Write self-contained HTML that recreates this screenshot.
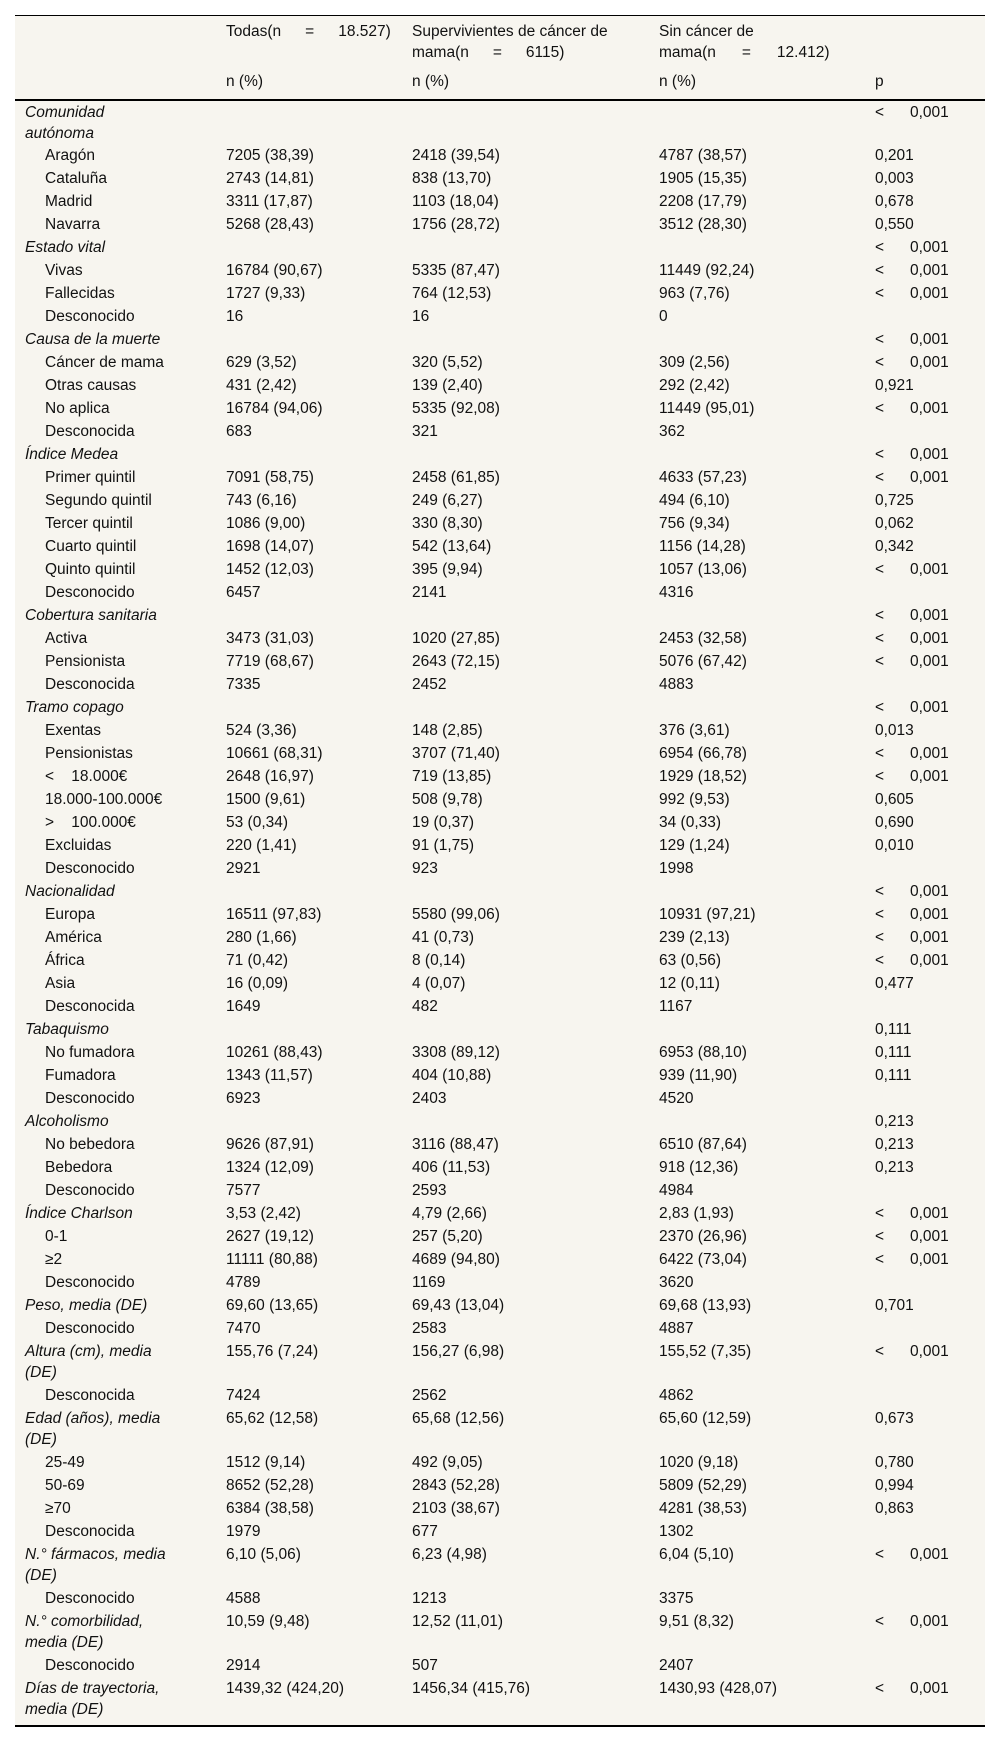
<!DOCTYPE html>
<html><head><meta charset="utf-8">
<style>
html,body{margin:0;padding:0;background:#fff;width:1000px;height:1743px;overflow:hidden}
body{font-family:"Liberation Sans",sans-serif;font-size:15.5px;color:#111}
.wrap{position:absolute;left:15px;top:15px;width:970px;height:1712px;background:#f7f5ef;border-top:1px solid #000;border-bottom:2px solid #000;box-sizing:border-box}
table{border-collapse:collapse;table-layout:fixed;width:970px}
td{padding:0;vertical-align:top;line-height:21px;overflow:visible;white-space:nowrap}
tr.s td{height:23px;padding-top:1px;box-sizing:border-box}
tr.d td{height:44px;padding-top:1px;box-sizing:border-box}
td.l{padding-left:10px}
td.i{padding-left:30px}
.it{font-style:italic}
.lt{display:inline-block;width:35px}
.sp{display:inline-block}
</style></head><body>
<div class="wrap">
<table>
<colgroup><col style="width:211px"><col style="width:186px"><col style="width:247px"><col style="width:216px"><col style="width:110px"></colgroup>
<tbody>
<tr><td style="height:55px"></td><td style="padding-top:5px">Todas(n<span class="sp" style="width:24px"></span>=<span class="sp" style="width:24px"></span>18.527)</td><td style="padding-top:5px">Supervivientes de cáncer de<br>mama(n<span class="sp" style="width:24px"></span>=<span class="sp" style="width:24px"></span>6115)</td><td style="padding-top:5px">Sin cáncer de<br>mama(n<span class="sp" style="width:26px"></span>=<span class="sp" style="width:26px"></span>12.412)</td><td></td></tr>
<tr><td style="height:28px;border-bottom:2px solid #000"></td><td style="border-bottom:2px solid #000">n (%)</td><td style="border-bottom:2px solid #000">n (%)</td><td style="border-bottom:2px solid #000">n (%)</td><td style="border-bottom:2px solid #000">p</td></tr>
</tbody>
<tbody id="tb">
<tr class="d"><td class="l it">Comunidad<br>autónoma</td><td></td><td></td><td></td><td><span class="lt">&lt;</span>0,001</td></tr>
<tr class="s"><td class="i">Aragón</td><td>7205 (38,39)</td><td>2418 (39,54)</td><td>4787 (38,57)</td><td>0,201</td></tr>
<tr class="s"><td class="i">Cataluña</td><td>2743 (14,81)</td><td>838 (13,70)</td><td>1905 (15,35)</td><td>0,003</td></tr>
<tr class="s"><td class="i">Madrid</td><td>3311 (17,87)</td><td>1103 (18,04)</td><td>2208 (17,79)</td><td>0,678</td></tr>
<tr class="s"><td class="i">Navarra</td><td>5268 (28,43)</td><td>1756 (28,72)</td><td>3512 (28,30)</td><td>0,550</td></tr>
<tr class="s"><td class="l it">Estado vital</td><td></td><td></td><td></td><td><span class="lt">&lt;</span>0,001</td></tr>
<tr class="s"><td class="i">Vivas</td><td>16784 (90,67)</td><td>5335 (87,47)</td><td>11449 (92,24)</td><td><span class="lt">&lt;</span>0,001</td></tr>
<tr class="s"><td class="i">Fallecidas</td><td>1727 (9,33)</td><td>764 (12,53)</td><td>963 (7,76)</td><td><span class="lt">&lt;</span>0,001</td></tr>
<tr class="s"><td class="i">Desconocido</td><td>16</td><td>16</td><td>0</td><td></td></tr>
<tr class="s"><td class="l it">Causa de la muerte</td><td></td><td></td><td></td><td><span class="lt">&lt;</span>0,001</td></tr>
<tr class="s"><td class="i">Cáncer de mama</td><td>629 (3,52)</td><td>320 (5,52)</td><td>309 (2,56)</td><td><span class="lt">&lt;</span>0,001</td></tr>
<tr class="s"><td class="i">Otras causas</td><td>431 (2,42)</td><td>139 (2,40)</td><td>292 (2,42)</td><td>0,921</td></tr>
<tr class="s"><td class="i">No aplica</td><td>16784 (94,06)</td><td>5335 (92,08)</td><td>11449 (95,01)</td><td><span class="lt">&lt;</span>0,001</td></tr>
<tr class="s"><td class="i">Desconocida</td><td>683</td><td>321</td><td>362</td><td></td></tr>
<tr class="s"><td class="l it">Índice Medea</td><td></td><td></td><td></td><td><span class="lt">&lt;</span>0,001</td></tr>
<tr class="s"><td class="i">Primer quintil</td><td>7091 (58,75)</td><td>2458 (61,85)</td><td>4633 (57,23)</td><td><span class="lt">&lt;</span>0,001</td></tr>
<tr class="s"><td class="i">Segundo quintil</td><td>743 (6,16)</td><td>249 (6,27)</td><td>494 (6,10)</td><td>0,725</td></tr>
<tr class="s"><td class="i">Tercer quintil</td><td>1086 (9,00)</td><td>330 (8,30)</td><td>756 (9,34)</td><td>0,062</td></tr>
<tr class="s"><td class="i">Cuarto quintil</td><td>1698 (14,07)</td><td>542 (13,64)</td><td>1156 (14,28)</td><td>0,342</td></tr>
<tr class="s"><td class="i">Quinto quintil</td><td>1452 (12,03)</td><td>395 (9,94)</td><td>1057 (13,06)</td><td><span class="lt">&lt;</span>0,001</td></tr>
<tr class="s"><td class="i">Desconocido</td><td>6457</td><td>2141</td><td>4316</td><td></td></tr>
<tr class="s"><td class="l it">Cobertura sanitaria</td><td></td><td></td><td></td><td><span class="lt">&lt;</span>0,001</td></tr>
<tr class="s"><td class="i">Activa</td><td>3473 (31,03)</td><td>1020 (27,85)</td><td>2453 (32,58)</td><td><span class="lt">&lt;</span>0,001</td></tr>
<tr class="s"><td class="i">Pensionista</td><td>7719 (68,67)</td><td>2643 (72,15)</td><td>5076 (67,42)</td><td><span class="lt">&lt;</span>0,001</td></tr>
<tr class="s"><td class="i">Desconocida</td><td>7335</td><td>2452</td><td>4883</td><td></td></tr>
<tr class="s"><td class="l it">Tramo copago</td><td></td><td></td><td></td><td><span class="lt">&lt;</span>0,001</td></tr>
<tr class="s"><td class="i">Exentas</td><td>524 (3,36)</td><td>148 (2,85)</td><td>376 (3,61)</td><td>0,013</td></tr>
<tr class="s"><td class="i">Pensionistas</td><td>10661 (68,31)</td><td>3707 (71,40)</td><td>6954 (66,78)</td><td><span class="lt">&lt;</span>0,001</td></tr>
<tr class="s"><td class="i">&lt;&nbsp;&nbsp;&nbsp;&nbsp;18.000€</td><td>2648 (16,97)</td><td>719 (13,85)</td><td>1929 (18,52)</td><td><span class="lt">&lt;</span>0,001</td></tr>
<tr class="s"><td class="i">18.000-100.000€</td><td>1500 (9,61)</td><td>508 (9,78)</td><td>992 (9,53)</td><td>0,605</td></tr>
<tr class="s"><td class="i">&gt;&nbsp;&nbsp;&nbsp;&nbsp;100.000€</td><td>53 (0,34)</td><td>19 (0,37)</td><td>34 (0,33)</td><td>0,690</td></tr>
<tr class="s"><td class="i">Excluidas</td><td>220 (1,41)</td><td>91 (1,75)</td><td>129 (1,24)</td><td>0,010</td></tr>
<tr class="s"><td class="i">Desconocido</td><td>2921</td><td>923</td><td>1998</td><td></td></tr>
<tr class="s"><td class="l it">Nacionalidad</td><td></td><td></td><td></td><td><span class="lt">&lt;</span>0,001</td></tr>
<tr class="s"><td class="i">Europa</td><td>16511 (97,83)</td><td>5580 (99,06)</td><td>10931 (97,21)</td><td><span class="lt">&lt;</span>0,001</td></tr>
<tr class="s"><td class="i">América</td><td>280 (1,66)</td><td>41 (0,73)</td><td>239 (2,13)</td><td><span class="lt">&lt;</span>0,001</td></tr>
<tr class="s"><td class="i">África</td><td>71 (0,42)</td><td>8 (0,14)</td><td>63 (0,56)</td><td><span class="lt">&lt;</span>0,001</td></tr>
<tr class="s"><td class="i">Asia</td><td>16 (0,09)</td><td>4 (0,07)</td><td>12 (0,11)</td><td>0,477</td></tr>
<tr class="s"><td class="i">Desconocida</td><td>1649</td><td>482</td><td>1167</td><td></td></tr>
<tr class="s"><td class="l it">Tabaquismo</td><td></td><td></td><td></td><td>0,111</td></tr>
<tr class="s"><td class="i">No fumadora</td><td>10261 (88,43)</td><td>3308 (89,12)</td><td>6953 (88,10)</td><td>0,111</td></tr>
<tr class="s"><td class="i">Fumadora</td><td>1343 (11,57)</td><td>404 (10,88)</td><td>939 (11,90)</td><td>0,111</td></tr>
<tr class="s"><td class="i">Desconocido</td><td>6923</td><td>2403</td><td>4520</td><td></td></tr>
<tr class="s"><td class="l it">Alcoholismo</td><td></td><td></td><td></td><td>0,213</td></tr>
<tr class="s"><td class="i">No bebedora</td><td>9626 (87,91)</td><td>3116 (88,47)</td><td>6510 (87,64)</td><td>0,213</td></tr>
<tr class="s"><td class="i">Bebedora</td><td>1324 (12,09)</td><td>406 (11,53)</td><td>918 (12,36)</td><td>0,213</td></tr>
<tr class="s"><td class="i">Desconocido</td><td>7577</td><td>2593</td><td>4984</td><td></td></tr>
<tr class="s"><td class="l it">Índice Charlson</td><td>3,53 (2,42)</td><td>4,79 (2,66)</td><td>2,83 (1,93)</td><td><span class="lt">&lt;</span>0,001</td></tr>
<tr class="s"><td class="i">0-1</td><td>2627 (19,12)</td><td>257 (5,20)</td><td>2370 (26,96)</td><td><span class="lt">&lt;</span>0,001</td></tr>
<tr class="s"><td class="i">≥2</td><td>11111 (80,88)</td><td>4689 (94,80)</td><td>6422 (73,04)</td><td><span class="lt">&lt;</span>0,001</td></tr>
<tr class="s"><td class="i">Desconocido</td><td>4789</td><td>1169</td><td>3620</td><td></td></tr>
<tr class="s"><td class="l it">Peso, media (DE)</td><td>69,60 (13,65)</td><td>69,43 (13,04)</td><td>69,68 (13,93)</td><td>0,701</td></tr>
<tr class="s"><td class="i">Desconocido</td><td>7470</td><td>2583</td><td>4887</td><td></td></tr>
<tr class="d"><td class="l it">Altura (cm), media<br>(DE)</td><td>155,76 (7,24)</td><td>156,27 (6,98)</td><td>155,52 (7,35)</td><td><span class="lt">&lt;</span>0,001</td></tr>
<tr class="s"><td class="i">Desconocida</td><td>7424</td><td>2562</td><td>4862</td><td></td></tr>
<tr class="d"><td class="l it">Edad (años), media<br>(DE)</td><td>65,62 (12,58)</td><td>65,68 (12,56)</td><td>65,60 (12,59)</td><td>0,673</td></tr>
<tr class="s"><td class="i">25-49</td><td>1512 (9,14)</td><td>492 (9,05)</td><td>1020 (9,18)</td><td>0,780</td></tr>
<tr class="s"><td class="i">50-69</td><td>8652 (52,28)</td><td>2843 (52,28)</td><td>5809 (52,29)</td><td>0,994</td></tr>
<tr class="s"><td class="i">≥70</td><td>6384 (38,58)</td><td>2103 (38,67)</td><td>4281 (38,53)</td><td>0,863</td></tr>
<tr class="s"><td class="i">Desconocida</td><td>1979</td><td>677</td><td>1302</td><td></td></tr>
<tr class="d"><td class="l it">N.° fármacos, media<br>(DE)</td><td>6,10 (5,06)</td><td>6,23 (4,98)</td><td>6,04 (5,10)</td><td><span class="lt">&lt;</span>0,001</td></tr>
<tr class="s"><td class="i">Desconocido</td><td>4588</td><td>1213</td><td>3375</td><td></td></tr>
<tr class="d"><td class="l it">N.° comorbilidad,<br>media (DE)</td><td>10,59 (9,48)</td><td>12,52 (11,01)</td><td>9,51 (8,32)</td><td><span class="lt">&lt;</span>0,001</td></tr>
<tr class="s"><td class="i">Desconocido</td><td>2914</td><td>507</td><td>2407</td><td></td></tr>
<tr class="d"><td class="l it">Días de trayectoria,<br>media (DE)</td><td>1439,32 (424,20)</td><td>1456,34 (415,76)</td><td>1430,93 (428,07)</td><td><span class="lt">&lt;</span>0,001</td></tr>
</tbody>
</table>
</div>
</body></html>
